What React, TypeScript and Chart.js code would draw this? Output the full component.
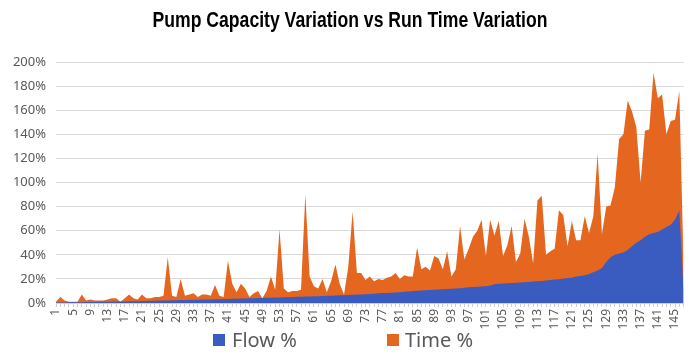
import React, { useEffect, useRef } from 'react';
import { Chart, registerables } from 'chart.js';

Chart.register(...registerables);

const TITLE = 'Pump Capacity Variation vs Run Time Variation';
const SERIES_NAMES = ['Flow %', 'Time %'];
const COLORS = ['#3A5BC0', '#E5671F'];

const categories: string[] = [];
for (let i = 1; i <= 147; i++) categories.push(String(i));

const yTicks = [0, 20, 40, 60, 80, 100, 120, 140, 160, 180, 200];

const flowValues = [
  0.5, 0.5, 0.5, 0.6, 0.6, 0.7, 0.7, 0.8, 0.8, 0.9,
  1, 1, 1, 1.1, 1.2, 1.2, 1.3, 1.4, 1.5, 1.5,
  1.6, 1.7, 1.8, 1.9, 2, 2, 2.1, 2.2, 2.3, 2.4,
  2.5, 2.6, 2.7, 2.8, 2.9, 3, 3, 3.1, 3.2, 3.3,
  3.4, 3.5, 3.6, 3.7, 3.8, 3.9, 4, 4.1, 4.2, 4.3,
  4.4, 4.5, 4.6, 4.8, 5, 5, 5.1, 5.2, 5.3, 5.4,
  5.5, 5.6, 5.8, 6, 6.1, 6.2, 6.4, 6.5, 6.6, 6.8,
  7, 7, 7.2, 7.5, 7.7, 8, 8.2, 8.4, 8.6, 8.8,
  9, 9.3, 9.6, 10, 10.2, 10.4, 10.6, 10.8, 11, 11.2,
  11.4, 11.6, 11.8, 12, 12.3, 12.6, 13, 13.2, 13.4, 13.6,
  14, 14.5, 15.5, 16, 16.2, 16.4, 16.6, 16.8, 17, 17.2,
  17.5, 17.8, 18, 18.3, 18.6, 19, 19.4, 19.8, 20.3, 20.8,
  21, 22, 22.5, 23, 24, 25.5, 27, 29, 34, 38,
  40, 41, 42, 44, 47, 50, 52, 55, 57, 58,
  59, 61, 63, 65, 69, 77, 10,
];

const timeValues = [
  1, 5, 2, 1, 1, 1, 7, 2, 3, 2,
  2, 2, 3, 4, 4, 1, 4, 7, 4, 3,
  7, 4, 4, 5, 5, 6, 38, 6, 5, 20,
  6, 7, 8, 5, 7, 7, 6, 15, 6, 5,
  35, 16, 9, 16, 12, 5, 8, 10, 4, 10,
  22, 11, 61, 12, 9, 10, 10, 11, 90, 22,
  14, 12, 20, 9, 18, 32, 16, 7, 30, 76,
  25, 25, 19, 22, 18, 20, 19, 21, 22, 25,
  20, 23, 22, 22, 46, 28, 30, 27, 39, 37,
  28, 43, 22, 28, 64, 36, 45, 55, 60, 69,
  39, 69, 56, 68, 39, 48, 64, 34, 41, 70,
  55, 33, 85, 89, 40, 43, 45, 77, 73, 47,
  68, 52, 52, 72, 58, 72, 124, 57, 80, 81,
  96, 136, 140, 168, 159, 146, 100, 143, 144, 191,
  170, 173, 140, 151, 152, 176, 30,
];

export default function App() {
  const ref = useRef<HTMLCanvasElement>(null);

  useEffect(() => {
    document.body.style.margin = '0';
    const canvas = ref.current;
    if (!canvas) return;
    const chart = new Chart(canvas, {
      type: 'line',
      data: {
        labels: categories,
        datasets: [
          {
            label: SERIES_NAMES[0],
            data: flowValues,
            backgroundColor: COLORS[0],
            borderColor: COLORS[0],
            borderWidth: 0,
            pointRadius: 0,
            fill: 'origin',
            tension: 0,
          },
          {
            label: SERIES_NAMES[1],
            data: timeValues,
            backgroundColor: COLORS[1],
            borderColor: COLORS[1],
            borderWidth: 0,
            pointRadius: 0,
            fill: 'origin',
            tension: 0,
          },
        ],
      },
      options: {
        responsive: false,
        animation: false,
        events: [],
        layout: { padding: { left: 8, right: 10, top: 62, bottom: 22 } },
        plugins: {
          legend: { display: false },
          tooltip: { enabled: false },
          title: { display: false },
        },
        scales: {
          x: {
            type: 'category',
            offset: false,
            grid: {
              display: true,
              drawOnChartArea: false,
              drawTicks: true,
              tickLength: 4,
              color: '#d0d0d0',
            },
            border: { display: true, color: '#d0d0d0' },
            ticks: {
              autoSkip: false,
              minRotation: 90,
              maxRotation: 90,
              padding: 2,
              color: '#595959',
              font: { family: "'Noto Sans', sans-serif", size: 12 },
              callback: (_v: any, index: number) => (index % 4 === 0 ? categories[index] : ''),
            },
            afterFit: (scale: any) => {
              scale.height = 28;
            },
          },
          y: {
            min: 0,
            max: 200,
            afterBuildTicks: (scale: any) => {
              scale.ticks = yTicks.map((v) => ({ value: v }));
            },
            grid: { color: '#d9d9d9', lineWidth: 1, drawTicks: false },
            border: { display: false },
            ticks: {
              padding: 10,
              color: '#595959',
              font: { family: "'Noto Sans', sans-serif", size: 13 },
              callback: (v: any) => v + '%',
            },
            afterFit: (scale: any) => {
              scale.width = 48;
            },
          },
        },
      },
    });
    return () => chart.destroy();
  }, []);

  const legendText: React.CSSProperties = {
    position: 'absolute',
    top: 328,
    height: 24,
    lineHeight: '24px',
    fontFamily: "'Noto Sans', sans-serif",
    fontSize: 20,
    color: '#595959',
    whiteSpace: 'nowrap',
  };
  const box = (left: number, color: string): React.CSSProperties => ({
    position: 'absolute',
    left,
    top: 334,
    width: 12,
    height: 12,
    background: color,
  });

  return (
    <div style={{ position: 'relative', width: 700, height: 353, background: '#ffffff', overflow: 'hidden' }}>
      <canvas ref={ref} width={700} height={353} style={{ display: 'block' }} />
      <div
        style={{
          position: 'absolute',
          left: 0,
          top: 7,
          width: 700,
          textAlign: 'center',
          fontFamily: "'Liberation Sans', Arial, sans-serif",
          fontWeight: 'bold',
          fontSize: 22,
          lineHeight: '26px',
          color: '#000000',
          transform: 'scaleX(0.8)',
          transformOrigin: '350px 0',
          whiteSpace: 'nowrap',
        }}
      >
        {TITLE}
      </div>
      <div style={box(213, COLORS[0])} />
      <div style={{ ...legendText, left: 232 }}>{SERIES_NAMES[0]}</div>
      <div style={box(387, COLORS[1])} />
      <div style={{ ...legendText, left: 405 }}>{SERIES_NAMES[1]}</div>
    </div>
  );
}
